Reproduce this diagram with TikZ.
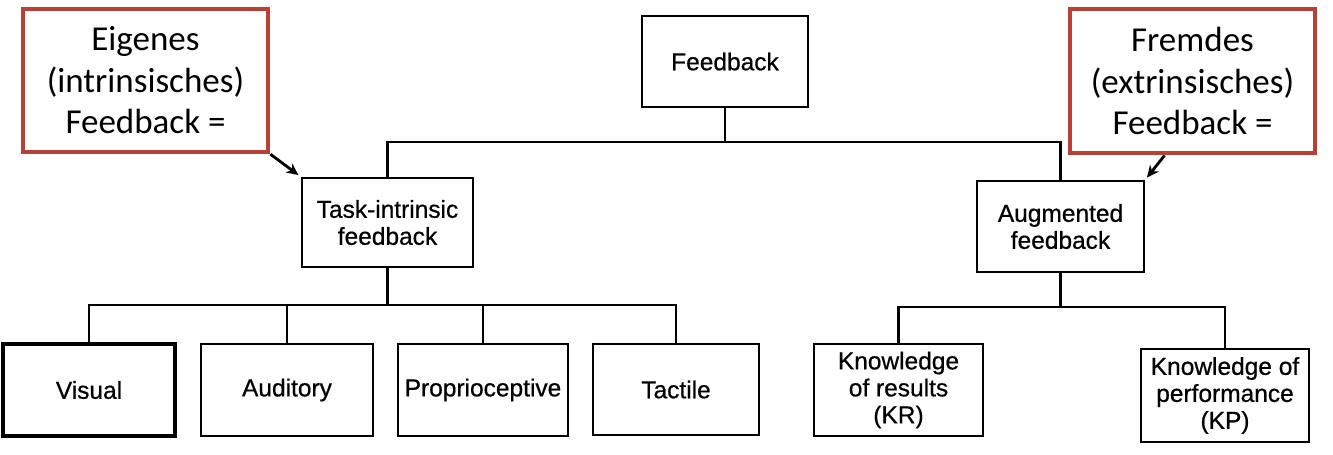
\documentclass[tikz,border=0pt]{standalone}
\usepackage{fontspec}
\setmainfont{Liberation Sans}
\newfontfamily\diagfont{Liberation Sans}[FakeBold=0.6]
\newfontfamily\calib{Carlito}
\usetikzlibrary{calc,arrows.meta}
\definecolor{boxred}{RGB}{184,64,52}
\begin{document}
\begin{tikzpicture}[x=1pt,y=-1pt,
  diag/.style={draw=black, line width=2.2pt, rectangle, align=center, inner sep=2pt,
    font=\diagfont\fontsize{24.5}{27}\selectfont},
  heavy/.style={line width=3.6pt},
  note/.style={draw=boxred, line width=3.2pt, rectangle, align=center, inner sep=2pt,
    font=\calib\fontsize{35}{41.5}\selectfont},
  link/.style={line width=2.6pt},
  pointer/.style={line width=2.8pt, -{Stealth[length=12pt,width=11pt]}, shorten >=3pt, shorten <=1pt}]
\useasboundingbox (0,0) rectangle (1333,455);

% top level
\node[diag, minimum width=166pt, minimum height=91pt] (fb) at (725,61.5) {Feedback};
\node[diag, minimum width=171pt, minimum height=89pt] (ti) at (387.5,222.5) {Task-intrinsic\\feedback};
\node[diag, minimum width=167pt, minimum height=91pt] (aug) at (1060.5,226.5) {Augmented\\feedback};

% bottom level
\node[diag, heavy, minimum width=172pt, minimum height=92pt] (vis) at (89,390) {Visual};
\node[diag, minimum width=172pt, minimum height=92pt] (aud) at (287,390) {Auditory};
\node[diag, minimum width=170pt, minimum height=92pt] (prop) at (483,390) {Proprioceptive};
\node[diag, minimum width=166pt, minimum height=91pt] (tac) at (676,389.5) {Tactile};
\node[diag, minimum width=169pt, minimum height=92pt] (kr) at (898.5,390) {Knowledge\\of results\\(KR)};
\node[diag, minimum width=168pt, minimum height=93pt] (kp) at (1225,395.5) {Knowledge of\\performance\\(KP)};

% notes
\node[note, minimum width=245pt, minimum height=143pt] (eig) at (145.5,80.5) {Eigenes\\(intrinsisches)\\Feedback =};
\node[note, minimum width=245pt, minimum height=144pt] (frm) at (1192.5,81) {Fremdes\\(extrinsisches)\\Feedback =};

% hubs
\coordinate (h1) at (0,142);
\coordinate (h2) at (0,305);
\coordinate (h3) at (0,307);

% tree connectors
\draw[link] (fb.south) -- (fb.south |- h1);
\draw[link] (ti.north) |- (h1 -| aug.north) -- (aug.north);

\draw[link] (ti.south) -- (ti.south |- h2);
\draw[link] (vis.north) |- (h2 -| tac.north) -- (tac.north);
\draw[link] (aud.north) -- (aud.north |- h2);
\draw[link] (prop.north) -- (prop.north |- h2);

\draw[link] (aug.south) -- (aug.south |- h3);
\draw[link] (kr.north) |- (h3 -| kp.north) -- (kp.north);

% pointers
\draw[pointer] (eig.south east) -- (ti.north west);
\draw[pointer] ($(frm.south west)!0.39!(frm.south east)$) -- (aug.north east);
\end{tikzpicture}
\end{document}
